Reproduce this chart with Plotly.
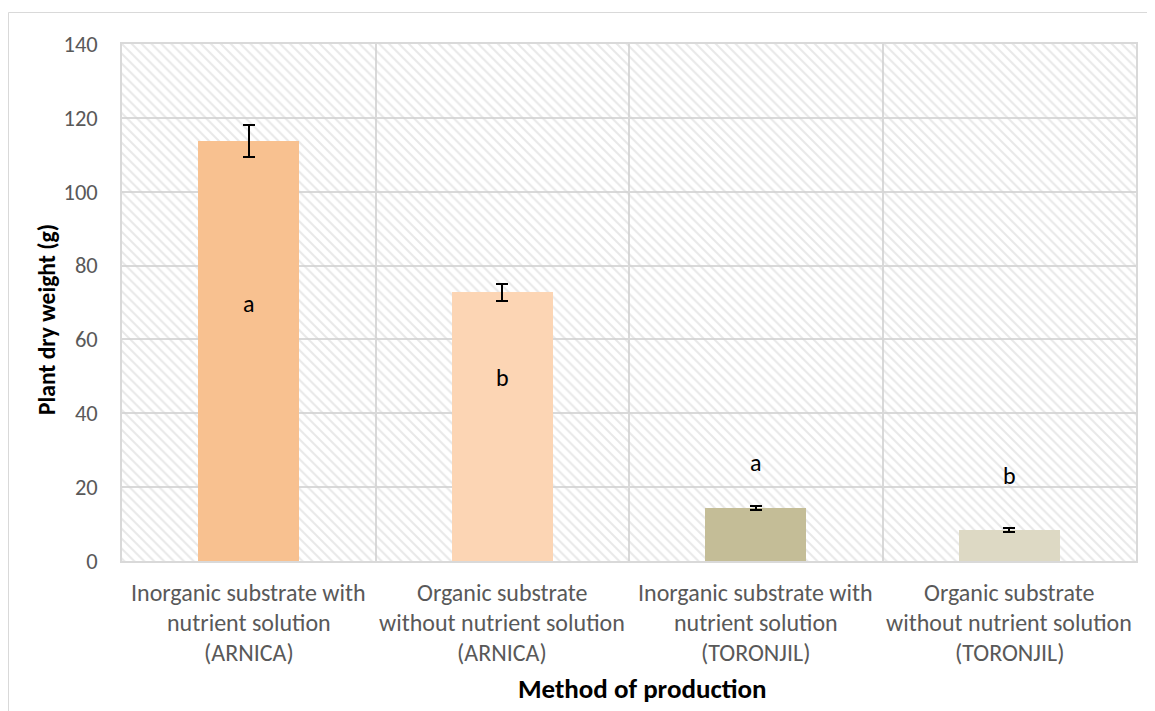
import plotly.graph_objects as go

# ---- data ----
categories = [
    ["Inorganic substrate with", "nutrient solution", "(ARNICA)"],
    ["Organic substrate", "without nutrient solution", "(ARNICA)"],
    ["Inorganic substrate with", "nutrient solution", "(TORONJIL)"],
    ["Organic substrate", "without nutrient solution", "(TORONJIL)"],
]
dry_weight = [113.7, 72.8, 14.4, 8.4]
error = [4.4, 2.3, 0.5, 0.45]
letters = ["a", "b", "a", "b"]
letter_y = [69, 49, 26, 22.6]
bar_colors = ["#F8C190", "#FCD5B4", "#C4BD97", "#DDD9C4"]
y_ticks = [0, 20, 40, 60, 80, 100, 120, 140]
y_max = 140

FONT = "Carlito, Lato, 'Liberation Sans', sans-serif"
xpos = list(range(len(categories)))

fig = go.Figure()

# hatched plot background
fig.add_trace(go.Bar(
    x=xpos, y=[y_max] * len(xpos), width=1,
    marker=dict(color="#D2D2D2", line=dict(width=0),
                pattern=dict(shape="\\", size=7, solidity=0.3,
                             fgcolor="#D2D2D2", bgcolor="rgba(0,0,0,0)")),
    hoverinfo="skip", showlegend=False,
))

# data bars
fig.add_trace(go.Bar(
    x=xpos, y=dry_weight, width=0.4,
    marker=dict(color=bar_colors, line=dict(width=0)),
    error_y=dict(type="data", array=error, color="black", thickness=1.8, width=6),
    showlegend=False,
))

# significance letters
fig.add_trace(go.Scatter(
    x=xpos, y=letter_y, mode="text", text=letters,
    textfont=dict(family=FONT, size=24, color="black"),
    textposition="middle center", showlegend=False, hoverinfo="skip",
))

annotations = []
for i, lines in enumerate(categories):
    for j, line in enumerate(lines):
        annotations.append(dict(
            x=i, xref="x", y=0, yref="paper", yanchor="middle", xanchor="center",
            yshift=-(31 + 30 * j), text=line, showarrow=False,
            font=dict(family=FONT, size=24, color="#595959"),
        ))

annotations.append(dict(
    x=(642 - 122) / 1014, y=(561 - 688) / 517, xref="paper", yref="paper",
    xanchor="center", yanchor="middle",
    text="<b>Method of production</b>", showarrow=False,
    font=dict(family=FONT, size=27, color="black"),
))
annotations.append(dict(
    x=(47 - 122) / 1014, y=(561 - 320) / 517, xref="paper", yref="paper",
    xanchor="center", yanchor="middle",
    text="<b>Plant dry weight (g)</b>", showarrow=False, textangle=-90,
    font=dict(family=FONT, size=23.5, color="black"),
))

fig.update_layout(
    width=1155, height=711,
    margin=dict(l=114, r=27, t=36, b=158),
    paper_bgcolor="white", plot_bgcolor="white",
    barmode="overlay", bargap=0,
    annotations=annotations,
    shapes=[dict(type="rect", xref="paper", yref="paper",
                 x0=(8.5 - 122) / 1014, x1=1.2, y0=-0.5, y1=(561 - 12.5) / 517,
                 line=dict(color="#D9D9D9", width=1), layer="below")],
    xaxis=dict(range=[-0.5, 3.5], tickvals=xpos, showticklabels=False,
               showgrid=False, zeroline=False, ticks="",
               showline=True, linecolor="#D9D9D9", linewidth=1.5, mirror=True,
               minor=dict(tickvals=[0.5, 1.5, 2.5], showgrid=True,
                          gridcolor="#D9D9D9", gridwidth=1.5, ticks="")),
    yaxis=dict(range=[0, y_max], tickvals=y_ticks, showgrid=True,
               gridcolor="#D9D9D9", gridwidth=1.5, zeroline=False, ticks="",
               showline=True, linecolor="#D9D9D9", linewidth=1.5, mirror=True,
               tickfont=dict(family=FONT, size=22.5, color="#595959"),
               ticklabelstandoff=18),
)

fig.write_html("out.html")
